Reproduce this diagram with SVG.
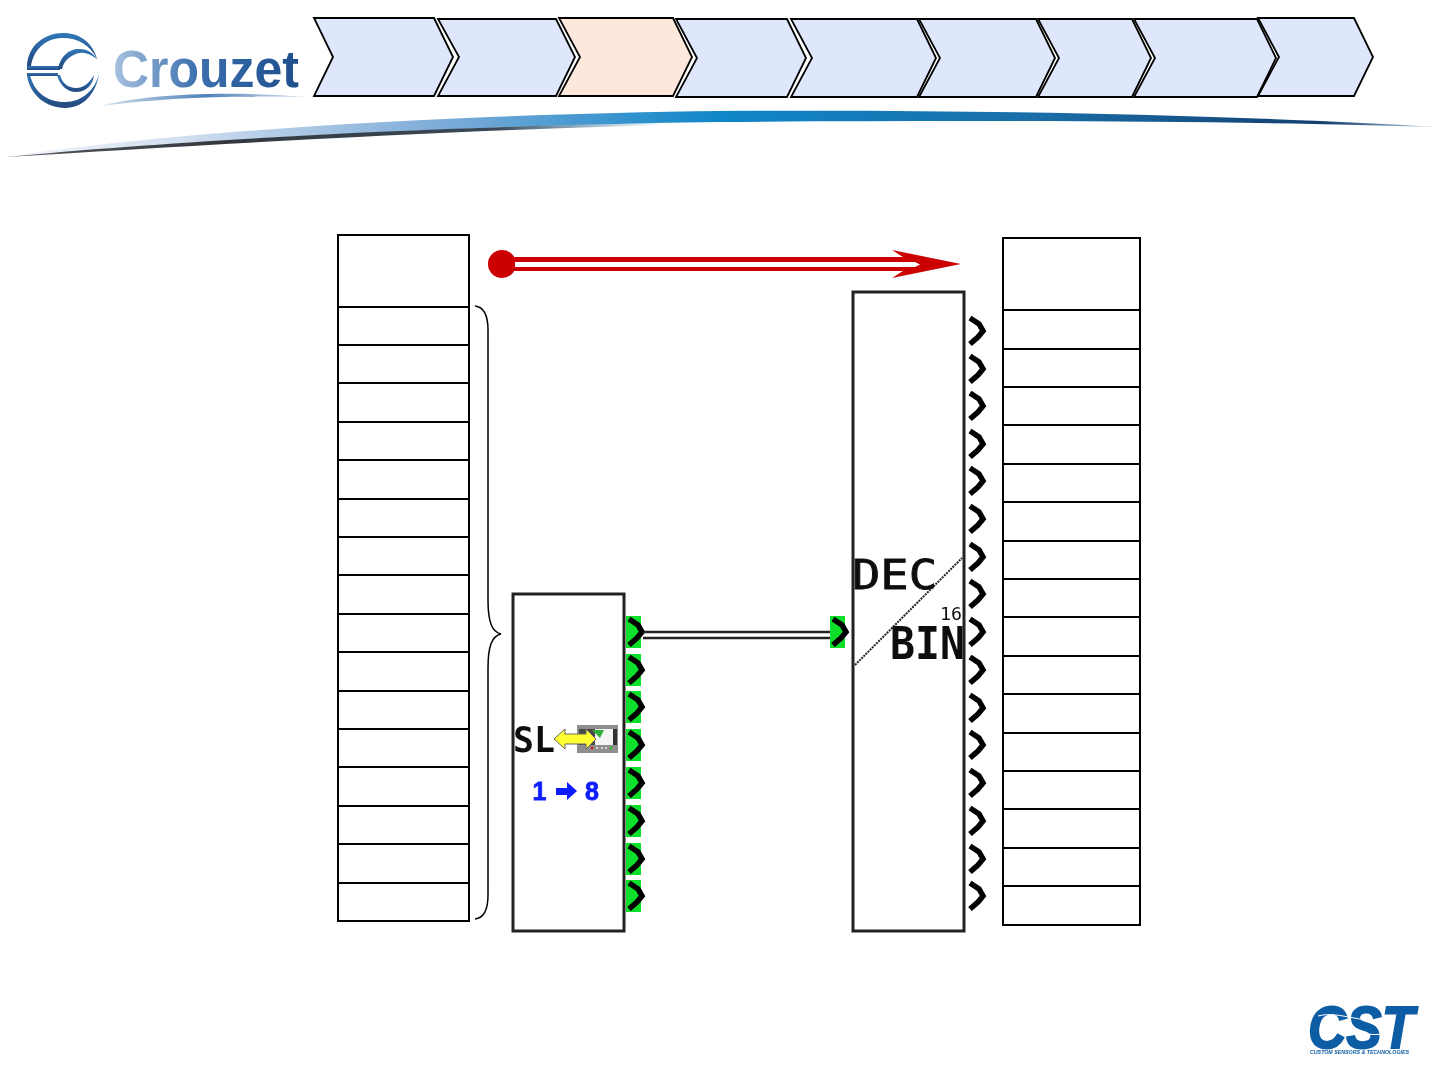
<svg xmlns="http://www.w3.org/2000/svg" width="1440" height="1080" viewBox="0 0 1440 1080">
<style>
.cell{fill:#fff;stroke:#000;stroke-width:2}
.step{fill:#dfe7fd;stroke:#000;stroke-width:1.8;stroke-linejoin:miter}
.block{fill:#fff;stroke:#222;stroke-width:3}
.pin{fill:none;stroke:#000;stroke-width:5.500;stroke-linejoin:miter}
.green{fill:#0be02a}
.sans{font-family:"Liberation Sans",Arial,sans-serif}
.mono{font-family:"DejaVu Sans Mono","Liberation Mono",monospace;fill:#111}
</style>
<defs>
<filter id="soft" x="-5%" y="-5%" width="110%" height="110%"><feGaussianBlur stdDeviation="0.5"/></filter>
<linearGradient id="sw" x1="0" x2="1" y1="0" y2="0">
<stop offset="0" stop-color="#f4f7fb"/><stop offset=".12" stop-color="#d3e0f0"/><stop offset=".3" stop-color="#7fadd9"/><stop offset=".5" stop-color="#0f86c8"/><stop offset=".72" stop-color="#1a6ea8"/><stop offset=".92" stop-color="#123f70"/><stop offset="1" stop-color="#b8c8d8"/>
</linearGradient>
<linearGradient id="shadow" x1="0" x2="1" y1="0" y2="0">
<stop offset="0" stop-color="#55595e"/><stop offset=".2" stop-color="#33383e"/><stop offset=".45" stop-color="#3a4a58"/><stop offset=".6" stop-color="#1a6ea8" stop-opacity="0"/>
</linearGradient>
<linearGradient id="cz" x1="0" x2="1" y1="0" y2="0">
<stop offset="0" stop-color="#a9c3e0"/><stop offset=".45" stop-color="#3b6fae"/><stop offset="1" stop-color="#1d4f8c"/>
</linearGradient>
<linearGradient id="ring" x1="0" x2="0" y1="0" y2="1">
<stop offset="0" stop-color="#2f78b8"/><stop offset="1" stop-color="#25487f"/>
</linearGradient>
<linearGradient id="ln" x1="0" x2="1" y1="0" y2="0">
<stop offset="0" stop-color="#d8e4f0"/><stop offset=".5" stop-color="#4f81b8"/><stop offset="1" stop-color="#dfe8f2"/>
</linearGradient>
<path id="pin" class="pin" d="M0,-13 L9,-7 L13,0 L8,6 L0,13"/>
<g id="gpin"><rect class="green" x="-3" y="-16" width="15" height="32"/><use href="#pin"/></g>
</defs>

<g id="banner">
<path d="M4,157 C200,128 480,114 720,111 C1000,109 1250,116 1438,127 C1250,121 1000,120 720,122 C480,125 220,138 4,157 Z" fill="url(#sw)"/>
<path d="M6,157 C200,138 480,125 720,122 C900,120 1000,120 1100,120 C1000,121 900,122 720,124 C480,128 220,144 6,157 Z" fill="url(#shadow)" filter="url(#soft)"/>
</g>

<g id="logo-crouzet">
<g fill="url(#ring)">
<path d="M27,66 C28,45 45,33 63,33 C80,33 93,43 97,59 C90,45 78,38 63,38 C47,38 34,48 31,66 Z"/>
<path d="M27,66 H60 V70 H27 Z"/>
<path d="M58,69 C60,56 70,48 80,49 C87,49 93,53 97,59 C90,54 85,52 80,53 C72,54 64,60 62,69 Z"/>
<path d="M27,75 C29,94 46,108 65,108 C83,108 96,94 99,74 C95,90 82,102 65,102 C47,102 34,92 30,75 Z"/>
<path d="M27,73 H58 V76 H27 Z"/>
<path d="M57,75 C60,86 68,92 76,92 C86,92 93,85 94,75 C90,82 84,88 76,88 C68,88 62,83 60,75 Z"/>
</g>
<text class="sans" x="113" y="87" font-size="51" font-weight="700" fill="url(#cz)" textLength="186" lengthAdjust="spacingAndGlyphs">Crouzet</text>
<path d="M100,106 C150,93 230,91 310,97 C230,95 160,98 100,106 Z" fill="url(#ln)"/>
</g>

<g id="steps">
<path id="step1" class="step" d="M314,18 H434 L453,57 L434,96 H314 L333,57 Z"/>
<path id="step2" class="step" d="M438,19 H556 L575,57 L556,96 H438 L459,57 Z"/>
<path id="step3" class="step" style="fill:#fee8dc" d="M559,18 H673 L692,57 L673,96 H559 L580,57 Z"/>
<path id="step4" class="step" d="M676,19 H787 L806,58 L787,97 H676 L697,58 Z"/>
<path id="step5" class="step" d="M791,19 H917 L936,58 L917,97 H791 L812,58 Z"/>
<path id="step6" class="step" d="M919,19 H1036 L1055,58 L1036,97 H919 L940,58 Z"/>
<path id="step7" class="step" d="M1038,19 H1132 L1151,58 L1132,97 H1038 L1059,58 Z"/>
<path id="step8" class="step" d="M1134,19 H1257 L1276,58 L1257,97 H1134 L1155,58 Z"/>
<path id="step9" class="step" d="M1258,18 H1354 L1373,57 L1354,96 H1258 L1279,57 Z"/>
</g>

<g id="table-left">
<path class="cell" d="M338,235 H469 V921 H338 Z M338,307 H469 M338,345 H469 M338,383 H469 M338,422 H469 M338,460 H469 M338,499 H469 M338,537 H469 M338,575 H469 M338,614 H469 M338,652 H469 M338,691 H469 M338,729 H469 M338,767 H469 M338,806 H469 M338,844 H469 M338,883 H469"/>
</g>

<g id="table-right">
<path class="cell" d="M1003,238 H1140 V925 H1003 Z M1003,310 H1140 M1003,349 H1140 M1003,387 H1140 M1003,425 H1140 M1003,464 H1140 M1003,502 H1140 M1003,541 H1140 M1003,579 H1140 M1003,617 H1140 M1003,656 H1140 M1003,694 H1140 M1003,733 H1140 M1003,771 H1140 M1003,809 H1140 M1003,848 H1140 M1003,886 H1140"/>
</g>

<g id="brace">
<path d="M475,306 C484,307 488,316 488,330 V600 C488,622 492,632 501,634 C492,636 488,646 488,668 V895 C488,910 484,918 475,919" fill="none" stroke="#000" stroke-width="1.500"/>
</g>

<g id="block-sl">
<rect class="block" x="513" y="594" width="111" height="337" filter="url(#soft)"/>
<g filter="url(#soft)">
<text class="mono" x="513" y="752" font-size="35" font-weight="700" textLength="42" lengthAdjust="spacingAndGlyphs">SL</text>
<rect x="577" y="725" width="41" height="28" fill="#8e8e8e"/>
<rect x="579" y="729" width="16" height="16" fill="#4a4a4a"/>
<rect x="595" y="729" width="18" height="16" fill="#f4f4f4"/>
<rect x="613" y="729" width="4" height="16" fill="#333"/>
<path d="M592,730 H604 L600,738 Z" fill="#2fae3a"/>
<g fill="#eee"><circle cx="597" cy="748" r="1"/><circle cx="602" cy="748" r="1"/><circle cx="606" cy="748" r="1"/></g>
<circle cx="592" cy="748" r="1.200" fill="#e00"/><circle cx="611" cy="748" r="1.200" fill="#1c1"/>
<path d="M554,739 L565,729 V734 H586 V729 L596,739 L586,749 V744 H565 V749 Z" fill="#ffff33" stroke="#666" stroke-width="1"/>
<text class="sans" x="539.500" y="800" font-size="25" font-weight="700" text-anchor="middle" fill="#0a1fff" stroke="#0a1fff" stroke-width=".8">1</text>
<path d="M556,788 H567 V782 L577,791 L567,800 V795 H556 Z" fill="#0a1fff"/>
<text class="sans" x="592" y="800" font-size="25" font-weight="700" text-anchor="middle" fill="#0a1fff" stroke="#0a1fff" stroke-width=".8">8</text>
<use href="#gpin" x="629" y="632"/><use href="#gpin" x="629" y="670"/><use href="#gpin" x="629" y="707"/><use href="#gpin" x="629" y="745"/>
<use href="#gpin" x="629" y="783"/><use href="#gpin" x="629" y="821"/><use href="#gpin" x="629" y="859"/><use href="#gpin" x="629" y="896"/>
</g>
</g>

<g id="block-dec">
<rect class="block" x="853" y="292" width="111" height="639" filter="url(#soft)"/>
<g filter="url(#soft)">
<path d="M855,665 L962,558" stroke="#222" stroke-width="2" stroke-dasharray="2 1"/>
<text class="mono" x="852" y="589" font-size="40" stroke="#111" stroke-width=".8" textLength="85" lengthAdjust="spacingAndGlyphs">DEC</text>
<text class="mono" x="890" y="659" font-size="44" font-weight="700" textLength="75" lengthAdjust="spacingAndGlyphs">BIN</text>
<text class="mono" x="940" y="620" font-size="17" textLength="22" lengthAdjust="spacingAndGlyphs">16</text>
<use href="#pin" x="970" y="331"/><use href="#pin" x="970" y="369"/><use href="#pin" x="970" y="406"/><use href="#pin" x="970" y="444"/>
<use href="#pin" x="970" y="481"/><use href="#pin" x="970" y="519"/><use href="#pin" x="970" y="557"/><use href="#pin" x="970" y="594"/>
<use href="#pin" x="970" y="632"/><use href="#pin" x="970" y="670"/><use href="#pin" x="970" y="708"/><use href="#pin" x="970" y="745"/>
<use href="#pin" x="970" y="783"/><use href="#pin" x="970" y="821"/><use href="#pin" x="970" y="859"/><use href="#pin" x="970" y="896"/>
</g>
</g>

<g id="connectors">
<g id="wire" filter="url(#soft)">
<path d="M643,632 H833 M643,638 H833" stroke="#222" stroke-width="2.500" fill="none"/>
<use href="#gpin" x="833" y="632"/>
</g>
<g id="red-arrow">
<circle cx="502" cy="264" r="14" fill="#cc0000"/>
<path d="M502,257 H903 L892,250 L961,264 L892,278 L903,271 H502 Z" fill="#cc0000"/>
<path d="M515,262 H915 L920,264.500 L915,267 H515 Z" fill="#fff"/>
</g>
</g>

<g id="logo-cst" filter="url(#soft)">
<text class="sans" x="1308" y="1048" font-size="60" font-weight="700" font-style="italic" fill="#105da5" stroke="#105da5" stroke-width="1.800" textLength="106" lengthAdjust="spacingAndGlyphs">CST</text>
<path d="M1318,1016 C1340,1010 1365,1026 1395,1019 M1322,1034 C1345,1026 1370,1040 1392,1032" fill="none" stroke="#fff" stroke-width="1"/>
<text class="sans" x="1310" y="1054" font-size="6" font-weight="700" font-style="italic" fill="#105da5" textLength="99" lengthAdjust="spacingAndGlyphs">CUSTOM SENSORS &amp; TECHNOLOGIES</text>
</g>
</svg>
